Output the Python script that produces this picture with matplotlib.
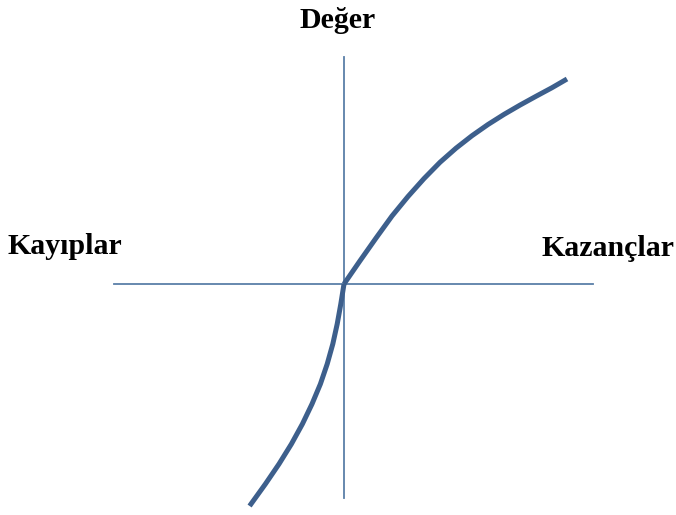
import matplotlib
matplotlib.use("Agg")
import matplotlib.pyplot as plt

# value function (origin = reference point)
gains_x = [0, 16, 32, 48, 64, 80, 96, 112, 128, 144, 160, 176, 192, 208, 223]
gains_v = [0, 23.2, 45.9, 68.0, 87.5, 105.4, 121.7, 135.8, 148.3, 159.5,
           169.6, 178.9, 187.7, 196.3, 205]
losses_x = [0, -3.2, -6.8, -11.2, -16.8, -23.6, -32.0, -41.6, -52.6, -65.0,
            -78.6, -93.0, -94.4]
losses_v = [0, -20, -40, -60, -80, -100, -120, -140, -160, -180, -200, -220, -222]

# axis extents
h_axis = [-230, 249]
v_axis = [-214, 227]

labels = {"top": "Değer", "left": "Kayıplar", "right": "Kazançlar"}

AXIS_C = "#5a7fa8"
CURVE_C = "#3d5f8c"


def main():
    fig = plt.figure(figsize=(6.76, 5.15), dpi=100)
    ax = fig.add_axes([0, 0, 1, 1])
    ax.set_xlim(-344, 332)
    ax.set_ylim(-231, 284)
    ax.axis("off")

    ax.plot(h_axis, [0, 0], color=AXIS_C, lw=1.3)
    ax.plot([0, 0], v_axis, color=AXIS_C, lw=1.3)

    ax.plot(gains_x, gains_v, color=CURVE_C, lw=3.6, solid_capstyle="butt")
    ax.plot(losses_x, losses_v, color=CURVE_C, lw=3.6, solid_capstyle="butt")

    font = dict(family="Liberation Serif", weight="bold", fontsize=21.5)
    ax.text(-6, 263, labels["top"], ha="center", va="center", **font)
    ax.text(-336, 38, labels["left"], ha="left", va="center", **font)
    ax.text(330, 35, labels["right"], ha="right", va="center", **font)

    fig.savefig("out.png", dpi=100, facecolor="white")


if __name__ == "__main__":
    main()
